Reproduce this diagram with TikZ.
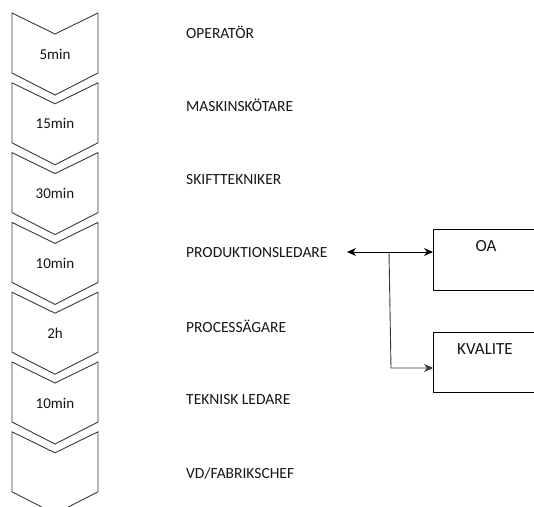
\documentclass[tikz,border=0pt]{standalone}
\usepackage{fontspec}
\setmainfont{Carlito}
\usetikzlibrary{arrows.meta}
\definecolor{ink}{HTML}{14141F}
\definecolor{edge}{HTML}{3A3A3A}
\tikzset{
  chev/.style={draw=edge, line width=0.9pt, fill=white},
  timelbl/.style={text=ink, font=\fontsize{15}{17}\selectfont, inner sep=0pt},
  rolelbl/.style={text=ink, font=\fontsize{15.5}{18}\selectfont, anchor=west, inner sep=0pt},
  sidebox/.style={draw=black, line width=0.9pt, fill=white},
  boxlbl/.style={text=ink, font=\fontsize{17}{19}\selectfont, inner sep=0pt},
  link/.style={line width=0.9pt, -{Stealth[length=9pt,width=8pt]}},
}
\begin{document}
\begin{tikzpicture}[x=1pt,y=-1pt]
\useasboundingbox (0,0) rectangle (534,506);
\clip (0,0) rectangle (534,506);

% chevron steps, one every 69.8 units
\foreach \i/\t in {0/5min,1/15min,2/30min,3/10min,4/2h,5/10min,6/{}} {
  \pgfmathsetmacro{\yo}{13+69.8*\i}
  \draw[chev] (12,\yo) -- (55,\yo+21) -- (98,\yo) -- (98,\yo+60)
    -- (55,\yo+82) -- (12,\yo+60) -- cycle;
  \node[timelbl] (t\i) at (55,\yo+41) {\t};
}

% role names beside the steps
\node[rolelbl] (r0) at (186,32)  {OPERATÖR};
\node[rolelbl] (r1) at (186,105) {MASKINSKÖTARE};
\node[rolelbl] (r2) at (186,180) {SKIFTTEKNIKER};
\node[rolelbl] (r3) at (186,253) {PRODUKTIONSLEDARE};
\node[rolelbl] (r4) at (186,326) {PROCESSÄGARE};
\node[rolelbl] (r5) at (186,400) {TEKNISK LEDARE};
\node[rolelbl] (r6) at (186,473) {VD/FABRIKSCHEF};

% side boxes
\draw[sidebox] (433,229) rectangle (540,290);
\draw[sidebox] (433,332) rectangle (540,392);
\coordinate (oa) at (433,252);
\coordinate (kv) at (433,368);
\node[boxlbl] (oalbl) at (486,246) {OA};
\node[boxlbl] (kvlbl) at (485,349) {KVALITE};

% connectors
\coordinate (left) at (347,252);
\coordinate (junc) at (389,252);
\draw[link, {Stealth[length=9pt,width=8pt]}-{Stealth[length=9pt,width=8pt]}] (left) -- (oa);
\draw[link, draw=edge] (junc) -- (391,368) -- (kv);
\end{tikzpicture}
\end{document}
